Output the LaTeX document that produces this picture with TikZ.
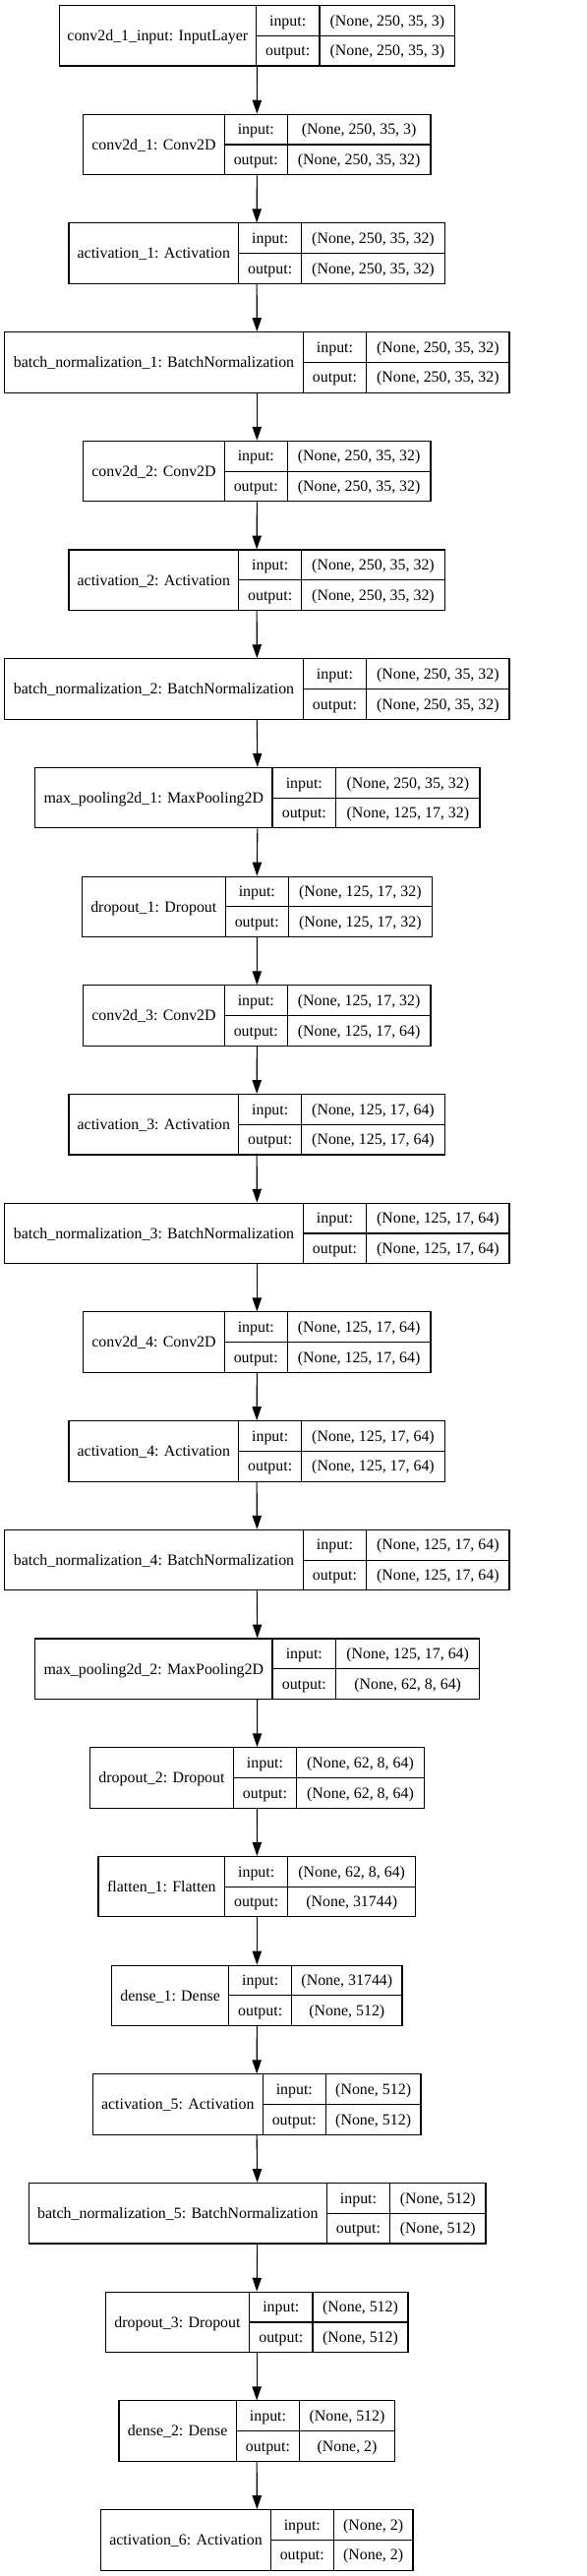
\documentclass[tikz,border=0pt]{standalone}
\usepackage{fontspec}
\setmainfont{Liberation Serif}
\usetikzlibrary{arrows.meta}
\tikzset{
  layerbox/.style={draw=black, line width=1.1bp, inner sep=0pt, rectangle},
  cell/.style={inner sep=0pt, text height=12.5bp, text depth=2bp, font=\fontsize{15.9bp}{18bp}\selectfont},
  divider/.style={draw=black, line width=1.1bp},
  flow/.style={draw=black, line width=1.1bp, -{Triangle[length=13.9bp,width=9.3bp]}},
}
% #1 name, #2 top, #3 left, #4 divider 1, #5 divider 2, #6 right, #7 label, #8 input, #9 output
\newcommand\klayer[9]{%
  \node[layerbox, minimum width={(#6-#3)*1bp}, minimum height=61.5bp] (#1) at ({(#3+#6)/2},{#2+30.75}) {};
  \node[cell] (#1-lab) at ({(#3+#4)/2},{#2+30.75}) {#7};
  \node[cell] (#1-inl) at ({(#4+#5)/2},{#2+15.4}) {input:};
  \node[cell] (#1-outl) at ({(#4+#5)/2},{#2+46.1}) {output:};
  \node[cell] (#1-inv) at ({(#5+#6)/2},{#2+15.4}) {#8};
  \node[cell] (#1-outv) at ({(#5+#6)/2},{#2+46.1}) {#9};
  \draw[divider] (#4,#2) -- (#4,#2+61.5);
  \draw[divider] (#5,#2) -- (#5,#2+61.5);
  \draw[divider] (#4,#2+30.75) -- (#6,#2+30.75);
}
\begin{document}
\begin{tikzpicture}[x=1bp, y=-1bp]
\useasboundingbox[fill=white] (0,0) rectangle (597,2619);
\klayer{L0}{5.5}{60.3}{260.3}{325}{462.7}{conv2d\_1\_input: InputLayer}{(None, 250, 35, 3)}{(None, 250, 35, 3)}
\klayer{L1}{116.2}{84.7}{228.3}{292.3}{438}{conv2d\_1: Conv2D}{(None, 250, 35, 3)}{(None, 250, 35, 32)}
\klayer{L2}{226.9}{70}{242.7}{306.7}{452.3}{activation\_1: Activation}{(None, 250, 35, 32)}{(None, 250, 35, 32)}
\klayer{L3}{337.6}{4.7}{308.3}{372.7}{518}{batch\_normalization\_1: BatchNormalization}{(None, 250, 35, 32)}{(None, 250, 35, 32)}
\klayer{L4}{448.3}{84.7}{228.3}{292.3}{438}{conv2d\_2: Conv2D}{(None, 250, 35, 32)}{(None, 250, 35, 32)}
\klayer{L5}{559.0}{70}{242.7}{306.7}{452.3}{activation\_2: Activation}{(None, 250, 35, 32)}{(None, 250, 35, 32)}
\klayer{L6}{669.7}{4.7}{308.3}{372.7}{518}{batch\_normalization\_2: BatchNormalization}{(None, 250, 35, 32)}{(None, 250, 35, 32)}
\klayer{L7}{780.4}{35.7}{277}{341.7}{488}{max\_pooling2d\_1: MaxPooling2D}{(None, 250, 35, 32)}{(None, 125, 17, 32)}
\klayer{L8}{891.1}{83.3}{229.3}{293.3}{439.3}{dropout\_1: Dropout}{(None, 125, 17, 32)}{(None, 125, 17, 32)}
\klayer{L9}{1001.8}{84.7}{228.3}{292.3}{438}{conv2d\_3: Conv2D}{(None, 125, 17, 32)}{(None, 125, 17, 64)}
\klayer{L10}{1112.5}{70}{242.7}{306.7}{452.3}{activation\_3: Activation}{(None, 125, 17, 64)}{(None, 125, 17, 64)}
\klayer{L11}{1223.2}{4.7}{308.3}{372.7}{518}{batch\_normalization\_3: BatchNormalization}{(None, 125, 17, 64)}{(None, 125, 17, 64)}
\klayer{L12}{1333.9}{84.7}{228.3}{292.3}{438}{conv2d\_4: Conv2D}{(None, 125, 17, 64)}{(None, 125, 17, 64)}
\klayer{L13}{1444.6}{70}{242.7}{306.7}{452.3}{activation\_4: Activation}{(None, 125, 17, 64)}{(None, 125, 17, 64)}
\klayer{L14}{1555.3}{4.7}{308.3}{372.7}{518}{batch\_normalization\_4: BatchNormalization}{(None, 125, 17, 64)}{(None, 125, 17, 64)}
\klayer{L15}{1666.0}{35.7}{277}{341.7}{487.7}{max\_pooling2d\_2: MaxPooling2D}{(None, 125, 17, 64)}{(None, 62, 8, 64)}
\klayer{L16}{1776.7}{91.7}{237.3}{301.7}{431.3}{dropout\_2: Dropout}{(None, 62, 8, 64)}{(None, 62, 8, 64)}
\klayer{L17}{1887.4}{100}{228.7}{292.7}{422.7}{flatten\_1: Flatten}{(None, 62, 8, 64)}{(None, 31744)}
\klayer{L18}{1998.1}{113.7}{232.7}{296.7}{409}{dense\_1: Dense}{(None, 31744)}{(None, 512)}
\klayer{L19}{2108.8}{94.3}{267.3}{331.3}{428}{activation\_5: Activation}{(None, 512)}{(None, 512)}
\klayer{L20}{2219.5}{29.3}{332.3}{396.7}{494}{batch\_normalization\_5: BatchNormalization}{(None, 512)}{(None, 512)}
\klayer{L21}{2330.2}{107.3}{253.7}{318}{415}{dropout\_3: Dropout}{(None, 512)}{(None, 512)}
\klayer{L22}{2440.9}{121}{240.3}{304.7}{401.3}{dense\_2: Dense}{(None, 512)}{(None, 2)}
\klayer{L23}{2551.6}{102.7}{275.3}{339.3}{420}{activation\_6: Activation}{(None, 2)}{(None, 2)}
\foreach \i [evaluate=\i as \j using int(\i+1)] in {0,...,22}
  \draw[flow] (L\i.south) -- (L\j.north);
\end{tikzpicture}
\end{document}
